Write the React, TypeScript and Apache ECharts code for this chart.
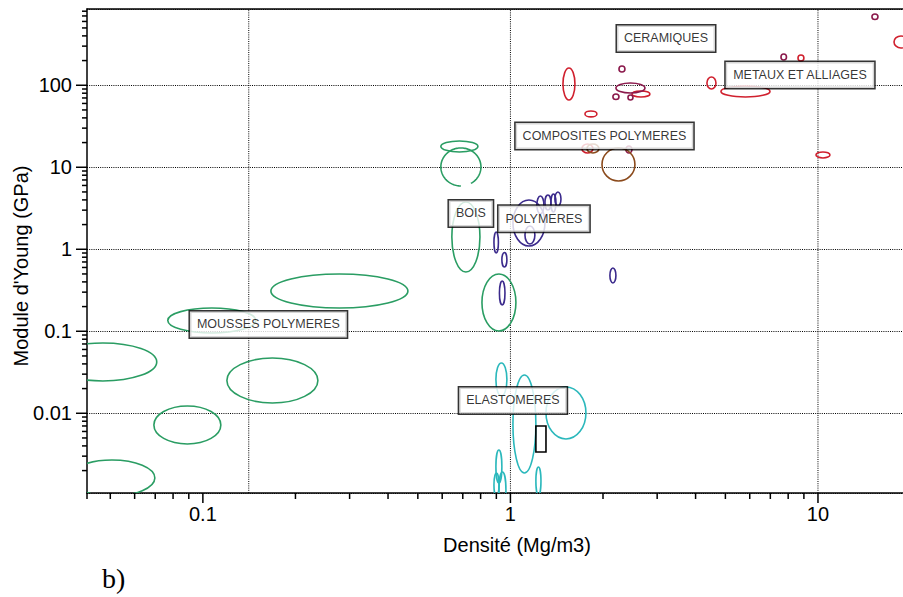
import React, { useEffect, useRef } from "react";
import * as echarts from "echarts";

// Axis extents (log scales)
const X_MIN = 0.042;
const X_MAX = 18.9;
const Y_MIN = 0.001066;
const Y_MAX = 851;

// Tick values and labels
const xMajorTicks = [0.1, 1, 10];
const xTickLabels = ["0.1", "1", "10"];
const xMinorTicks = [0.042, 0.05, 0.06, 0.07, 0.08, 0.09, 0.2, 0.3, 0.4, 0.5, 0.6, 0.7, 0.8, 0.9, 2, 3, 4, 5, 6, 7, 8, 9];
const xGridValues = [0.141, 1, 10];
const yMajorTicks = [0.01, 0.1, 1, 10, 100];
const yTickLabels = ["0.01", "0.1", "1", "10", "100"];
const yMinorTicks = [
  0.002, 0.003, 0.004, 0.005, 0.006, 0.007, 0.008, 0.009,
  0.02, 0.03, 0.04, 0.05, 0.06, 0.07, 0.08, 0.09,
  0.2, 0.3, 0.4, 0.5, 0.6, 0.7, 0.8, 0.9,
  2, 3, 4, 5, 6, 7, 8, 9,
  20, 30, 40, 50, 60, 70, 80, 90,
  200, 300, 400, 500, 600, 700, 800,
];

// Material envelopes: [densityLow, densityHigh, modulusLow, modulusHigh]
const polymerFoams = [
  [0.0316, 0.0708, 0.0248, 0.072],
  [0.0367, 0.0698, 0.00098, 0.00269],
  [0.0693, 0.1144, 0.00422, 0.01228],
  [0.1197, 0.2366, 0.01335, 0.0472],
  [0.0769, 0.1487, 0.0954, 0.1923],
  [0.1664, 0.4642, 0.1923, 0.5],
];
const woods = [
  [0.808, 1.042, 0.1009, 0.5],
  [0.645, 0.796, 0.5287, 3.775],
  [0.594, 0.784, 15.37, 20.93],
];
// open envelope: [dLow, dHigh, eLow, eHigh, gapFromDeg, gapToDeg]
const woodsOpen = [[0.594, 0.802, 5.915, 17.2, 60, 90]];
const polymers = [
  [1.019, 1.295, 1.097, 3.992],
  [1.219, 1.285, 2.696, 4.467],
  [1.295, 1.354, 3.015, 4.594],
  [1.354, 1.406, 2.85, 4.725],
  [1.395, 1.46, 3.373, 4.998],
  [1.115, 1.201, 1.161, 1.924],
  [0.884, 0.914, 0.901, 1.625],
  [0.938, 0.974, 0.608, 0.914],
  [0.921, 0.96, 0.2093, 0.4106],
  [2.106, 2.203, 0.388, 0.5916],
];
const metals = [
  [1.482, 1.621, 66.2, 162.5],
  [1.747, 1.911, 41.1, 48.6],
  [2.484, 2.842, 72.0, 85.2],
  [4.355, 4.659, 90.1, 126.3],
  [4.837, 6.983, 72.0, 98.1],
  [9.85, 10.94, 12.99, 15.37],
  [17.67, 19.62, 285, 399],
  [8.61, 9.0, 197.8, 234.1],
  [1.708, 1.855, 14.94, 19.24],
];
const ceramics = [
  [14.98, 15.67, 634.6, 740.5],
  [7.58, 7.9, 203.4, 240.8],
  [2.254, 2.357, 145.3, 172],
  [2.154, 2.254, 67.1, 78.3],
  [2.411, 2.503, 66.2, 76.2],
  [2.203, 2.738, 80.5, 106.7],
  [2.374, 2.484, 14.94, 18.19],
];
const composites = [
  [1.985, 2.54, 6.81, 17.2],
  [1.773, 1.94, 14.94, 19.24],
];
const elastomers = [
  [0.897, 0.974, 0.01625, 0.0411],
  [1.019, 1.21, 0.00187, 0.0293],
  [1.305, 1.76, 0.00486, 0.02093],
  [0.897, 0.938, 0.001413, 0.003568],
  [0.884, 0.918, 0.000953, 0.00187],
  [0.918, 0.967, 0.0007, 0.001923],
  [1.21, 1.257, 0.001, 0.002214],
];
const boxes = [[1.21, 1.305, 0.003373, 0.007]];

// Family labels: [name, density, modulus]
const familyLabels: [string, number, number][] = [
  ["CERAMIQUES", 3.205, 372.2],
  ["METAUX ET ALLIAGES", 8.738, 133.6],
  ["COMPOSITES POLYMERES", 2.022, 24.08],
  ["BOIS", 0.7437, 2.733],
  ["POLYMERES", 1.285, 2.362],
  ["MOUSSES POLYMERES", 0.1633, 0.1211],
  ["ELASTOMERES", 1.019, 0.01432],
];

const FONT = "'Liberation Sans', Arial, Helvetica, sans-serif";

function ellipseSeries(name: string, data: number[][], color: string, kind: "ellipse" | "open" | "rect" = "ellipse") {
  return {
    type: "custom",
    name,
    clip: true,
    z: 3,
    encode: { x: [0, 1], y: [2, 3] },
    data,
    renderItem: (params: any, api: any) => {
      const a = api.coord([api.value(0), api.value(3)]);
      const b = api.coord([api.value(1), api.value(2)]);
      const cx = (a[0] + b[0]) / 2;
      const cy = (a[1] + b[1]) / 2;
      const rx = Math.abs(b[0] - a[0]) / 2;
      const ry = Math.abs(b[1] - a[1]) / 2;
      const style = { fill: "none", stroke: color, lineWidth: 1.6 };
      if (kind === "rect") {
        return { type: "rect", shape: { x: cx - rx, y: cy - ry, width: rx * 2, height: ry * 2 }, style };
      }
      if (kind === "open") {
        const g0 = api.value(4);
        const g1 = api.value(5);
        const pts: number[][] = [];
        for (let t = g1; t <= g0 + 360 + 0.01; t += 3) {
          const r = (t * Math.PI) / 180;
          pts.push([cx + rx * Math.cos(r), cy + ry * Math.sin(r)]);
        }
        return { type: "polyline", shape: { points: pts }, style };
      }
      return { type: "ellipse", shape: { cx, cy, rx, ry }, style };
    },
  };
}

function tickSeries(values: number[], axis: "x" | "y", len: number) {
  return {
    type: "custom",
    clip: false,
    silent: true,
    z: 6,
    encode: axis === "x" ? { x: 0, y: 1 } : { x: 1, y: 0 },
    data: values.map((v) => (axis === "x" ? [v, Y_MIN] : [v, X_MIN])),
    renderItem: (params: any, api: any) => {
      const v = api.value(0);
      if (axis === "x") {
        const p = api.coord([v, Y_MIN]);
        return { type: "line", shape: { x1: p[0], y1: p[1], x2: p[0], y2: p[1] + len }, style: { stroke: "#000", lineWidth: 1.5 } };
      }
      const p = api.coord([X_MIN, v]);
      return { type: "line", shape: { x1: p[0] - len, y1: p[1], x2: p[0], y2: p[1] }, style: { stroke: "#000", lineWidth: 1.5 } };
    },
  };
}

function labelFor(v: number, ticks: number[], labels: string[]) {
  for (let i = 0; i < ticks.length; i++) {
    if (Math.abs(v / ticks[i] - 1) < 1e-6) return labels[i];
  }
  return "";
}

export default function App() {
  const ref = useRef<HTMLDivElement>(null);
  useEffect(() => {
    if (!ref.current) return;
    const chart = echarts.init(ref.current, undefined, { renderer: "svg" });
    const option: any = {
      animation: false,
      backgroundColor: "#fff",
      grid: { left: 87, right: 0, top: 9, bottom: 104, containLabel: false },
      xAxis: [
        {
          type: "log",
          min: X_MIN,
          max: X_MAX,
          axisLine: { show: true, lineStyle: { color: "#000", width: 1.5 } },
          axisTick: { show: false },
          splitLine: { show: false },
          axisLabel: {
            fontSize: 20,
            fontFamily: FONT,
            color: "#000",
            margin: 11,
            showMinLabel: false,
            showMaxLabel: false,
            formatter: (v: number) => labelFor(v, xMajorTicks, xTickLabels),
          },
        },
        {
          type: "log",
          position: "top",
          min: X_MIN,
          max: X_MAX,
          axisLine: { show: true, lineStyle: { color: "#000", width: 1.5 } },
          axisTick: { show: false },
          axisLabel: { show: false },
          splitLine: { show: false },
        },
      ],
      yAxis: {
        type: "log",
        min: Y_MIN,
        max: Y_MAX,
        axisLine: { show: true, lineStyle: { color: "#000", width: 1.5 } },
        axisTick: { show: false },
        splitLine: { show: true, lineStyle: { color: "#000", width: 1, type: [1, 1.2] } },
        axisLabel: {
          fontSize: 20,
          fontFamily: FONT,
          color: "#000",
          margin: 15,
          showMinLabel: false,
          showMaxLabel: false,
          formatter: (v: number) => labelFor(v, yMajorTicks, yTickLabels),
        },
      },
      series: [
        {
          type: "custom",
          clip: true,
          silent: true,
          z: 1,
          encode: { x: 0, y: 1 },
          data: xGridValues.map((v) => [v, Y_MIN]),
          renderItem: (params: any, api: any) => {
            const v = api.value(0);
            const p0 = api.coord([v, Y_MIN]);
            const p1 = api.coord([v, Y_MAX]);
            return {
              type: "line",
              shape: { x1: p0[0], y1: p0[1], x2: p1[0], y2: p1[1] },
              style: { stroke: "#000", lineWidth: 1, lineDash: [1, 1.2] },
            };
          },
        },
        ellipseSeries("Mousses polymères", polymerFoams, "#2a9d63"),
        ellipseSeries("Bois", woods, "#2a9d63"),
        ellipseSeries("Bois (ouvert)", woodsOpen, "#2a9d63", "open"),
        ellipseSeries("Polymères", polymers, "#3b2a8c"),
        ellipseSeries("Métaux", metals, "#d0202e"),
        ellipseSeries("Céramiques", ceramics, "#8b1a4c"),
        ellipseSeries("Composites", composites, "#8b4a1c"),
        ellipseSeries("Elastomères", elastomers, "#2bb8bc"),
        ellipseSeries("Cadre", boxes, "#000", "rect"),
        tickSeries(xMajorTicks, "x", 10),
        tickSeries(xMinorTicks, "x", 6),
        tickSeries(yMajorTicks, "y", 11),
        tickSeries(yMinorTicks, "y", 5),
        {
          type: "scatter",
          z: 10,
          symbolSize: 0,
          silent: true,
          data: familyLabels.map(([n, x, y]) => ({ name: n, value: [x, y] })),
          label: {
            show: true,
            position: "inside",
            formatter: (p: any) => p.name,
            fontSize: 12.5,
            lineHeight: 14,
            fontFamily: FONT,
            color: "#000",
            backgroundColor: "#fff",
            borderColor: "#000",
            borderWidth: 1.5,
            padding: [6, 7, 6, 7],
          },
        },
      ],
      graphic: [
        {
          type: "text",
          x: 517,
          y: 545,
          style: { text: "Densité (Mg/m3)", fontSize: 20, fontFamily: FONT, fill: "#000", align: "center", verticalAlign: "middle" },
        },
        {
          type: "text",
          x: 21,
          y: 266,
          rotation: Math.PI / 2,
          style: { text: "Module d'Young (GPa)", fontSize: 20, fontFamily: FONT, fill: "#000", align: "center", verticalAlign: "middle" },
        },
        {
          type: "text",
          x: 102,
          y: 578,
          style: { text: "b)", fontSize: 28, fontFamily: "'Liberation Serif', 'Times New Roman', serif", fill: "#000", align: "left", verticalAlign: "middle" },
        },
      ],
    };
    chart.setOption(option);
    return () => chart.dispose();
  }, []);
  return <div ref={ref} style={{ position: "fixed", left: 0, top: 0, width: 903, height: 597 }} />;
}
